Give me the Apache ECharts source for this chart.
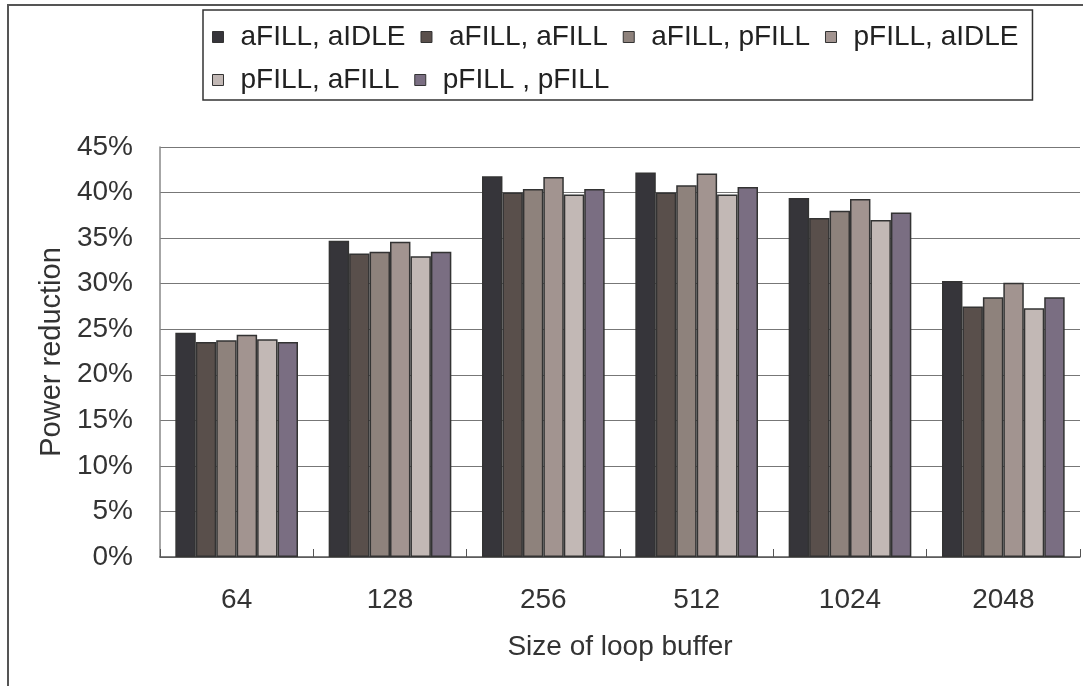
<!DOCTYPE html>
<html>
<head>
<meta charset="utf-8">
<script src="https://cdn.jsdelivr.net/npm/echarts@6/dist/echarts.min.js"></script>
<style>
  html, body { margin: 0; padding: 0; background: #fff; }
  #chart { width: 1088px; height: 686px; }
</style>
</head>
<body>
<div id="chart"></div>
<script>
// Loop buffer sizes on the x axis
const categories = ['64', '128', '256', '512', '1024', '2048'];

// Power reduction (%) for each fill policy pair
const seriesNames = ['aFILL, aIDLE', 'aFILL, aFILL', 'aFILL, pFILL', 'pFILL, aIDLE', 'pFILL, aFILL', 'pFILL , pFILL'];
const aFillAIdle = [24.6, 34.7, 41.8, 42.2, 39.4, 30.3];
const aFillAFill = [23.6, 33.3, 40.0, 40.0, 37.2, 27.5];
const aFillPFill = [23.8, 33.5, 40.4, 40.8, 38.0, 28.5];
const pFillAIdle = [24.4, 34.6, 41.7, 42.1, 39.3, 30.1];
const pFillAFill = [23.9, 33.0, 39.8, 39.8, 37.0, 27.3];
const pFillPFill = [23.6, 33.5, 40.4, 40.6, 37.8, 28.5];
const seriesValues = [aFillAIdle, aFillAFill, aFillPFill, pFillAIdle, pFillAFill, pFillPFill];

const yTicks = { min: 0, max: 45, interval: 5 };

const colors = ['#36353a', '#594f4b', '#8e827c', '#a29490', '#c2b8b5', '#7a6e82'];
const font = 'Liberation Sans, Arial, sans-serif';

const chart = echarts.init(document.getElementById('chart'), null, { renderer: 'canvas' });

chart.setOption({
  animation: false,
  backgroundColor: '#ffffff',
  color: colors,
  textStyle: { fontFamily: font, color: '#333' },
  // chart-area frame along the top and left edges
  graphic: [{
    type: 'polyline',
    silent: true,
    shape: { points: [[8, 700], [8, 5], [1083, 5]] },
    style: { fill: 'none', stroke: '#555', lineWidth: 2 }
  }],
  legend: {
    left: 203,
    top: 10,
    width: 830,
    padding: [13, 14, 6, 9],
    borderColor: '#333',
    borderWidth: 1.5,
    itemWidth: 11,
    itemHeight: 11,
    itemGap: 15,
    icon: 'rect',
    itemStyle: { borderColor: '#333', borderWidth: 1 },
    textStyle: { fontFamily: font, fontSize: 28, color: '#222', lineHeight: 28, padding: [0, 0, 0, 12] },
    data: seriesNames
  },
  grid: { left: 160, right: 8, top: 147, bottom: 129, containLabel: false },
  xAxis: {
    type: 'category',
    data: categories,
    name: 'Size of loop buffer',
    nameLocation: 'middle',
    nameGap: 76,
    nameTextStyle: { fontFamily: font, fontSize: 28, color: '#333' },
    axisLine: { lineStyle: { color: '#555', width: 1.5 } },
    axisTick: { show: true, inside: true, length: 8, lineStyle: { color: '#555' } },
    axisLabel: { fontFamily: font, fontSize: 28, color: '#333', margin: 29 }
  },
  yAxis: {
    type: 'value',
    min: yTicks.min,
    max: yTicks.max,
    interval: yTicks.interval,
    name: 'Power reduction',
    nameLocation: 'middle',
    nameGap: 92,
    nameTextStyle: { fontFamily: font, fontSize: 29, color: '#333' },
    axisLine: { show: true, lineStyle: { color: '#888', width: 1.5 } },
    axisTick: { show: false },
    axisLabel: { fontFamily: font, fontSize: 28, color: '#333', margin: 27, formatter: '{value}%' },
    splitLine: { show: true, lineStyle: { color: '#777', width: 1.2 } }
  },
  series: seriesNames.map((name, i) => ({
    name,
    type: 'bar',
    data: seriesValues[i],
    barGap: '0%',
    barCategoryGap: '20%',
    itemStyle: { color: colors[i], borderColor: '#333', borderWidth: 1.5 }
  }))
});
</script>
</body>
</html>
